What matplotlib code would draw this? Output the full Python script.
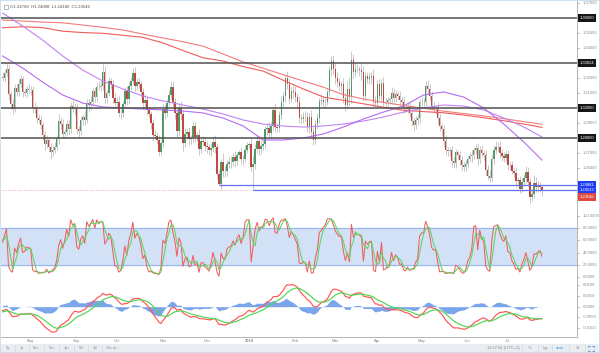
import matplotlib
matplotlib.use("Agg")
import matplotlib.pyplot as plt
from matplotlib.patches import Rectangle
import numpy as np
import pandas as pd

plt.rcParams["font.family"] = ["Liberation Sans", "DejaVu Sans"]

# ---------------------------------------
# Data - GBPUSD daily, 12 Jul 2018 .. 24 Jul 2019
# ---------------------------------------
# warm-up sessions (28 May - 11 Jul 2018), only feed the indicators
warmup_close = [
    1.3315, 1.3240, 1.3285, 1.3300,
    1.3340, 1.3355, 1.3375, 1.3420, 1.3410, 1.3410, 1.3380, 1.3375, 1.3395, 1.3275,
    1.3270, 1.3245, 1.3175, 1.3155, 1.3255, 1.3265, 1.3265, 1.3220, 1.3125, 1.3075, 1.3205,
    1.3145, 1.3185, 1.3230, 1.3245, 1.3285, 1.3275, 1.3230, 1.3210,
]
warmup_up = [25, 30, 20, 25, 30, 20, 25, 35, 30, 20, 25, 20, 45, 30, 35, 20, 30,
             25, 20, 25, 20, 30, 25, 35, 20, 30, 25, 20, 25, 30, 40, 20, 25]
warmup_dn = [20, 35, 25, 20, 25, 30, 20, 25, 35, 30, 20, 25, 30, 40, 25, 30, 35,
             25, 30, 20, 25, 30, 35, 30, 25, 20, 30, 25, 20, 30, 25, 30, 25]

close = [
    # Jul 2018
    1.3205, 1.3235, 1.3265, 1.3095, 1.3030, 1.2995, 1.3135, 1.3110, 1.3160, 1.3195, 1.3110, 1.3105, 1.3130, 1.3125,
    # Aug
    1.3120, 1.3005, 1.2995, 1.2935, 1.2925, 1.2890, 1.2825, 1.2765, 1.2790, 1.2745, 1.2710, 1.2725, 1.2740,
    1.2795, 1.2915, 1.2895, 1.2830, 1.2840, 1.2895, 1.2860, 1.3015, 1.2995, 1.3000,
    # Sep
    1.2860, 1.2850, 1.2920, 1.2945, 1.2925, 1.3035, 1.3020, 1.3045, 1.3115, 1.3075,
    1.3145, 1.3140, 1.3150, 1.3245, 1.3070, 1.3105, 1.3180, 1.3160, 1.3070, 1.3035,
    # Oct
    1.3045, 1.2970, 1.2970, 1.3030, 1.3115, 1.3060, 1.3150, 1.3180, 1.3235, 1.3150, 1.3175, 1.3160,
    1.3110, 1.3035, 1.3055, 1.2990, 1.2965, 1.2900, 1.2820, 1.2815, 1.2790, 1.2710, 1.2770,
    # Nov
    1.2995, 1.2970, 1.3035, 1.3090, 1.3140, 1.3045, 1.2970, 1.2850, 1.3000, 1.2960, 1.2770,
    1.2830, 1.2845, 1.2795, 1.2800, 1.2880, 1.2810, 1.2820, 1.2730, 1.2780, 1.2775, 1.2750,
    # Dec
    1.2740, 1.2720, 1.2735, 1.2775, 1.2740, 1.2560, 1.2495, 1.2640, 1.2585, 1.2580, 1.2630,
    1.2640, 1.2645, 1.2675, 1.2650, 1.2690, 1.2710, 1.2660, 1.2665, 1.2725, 1.2755,
    # Jan 2019
    1.2760, 1.2610, 1.2630, 1.2730, 1.2780, 1.2730, 1.2750, 1.2760, 1.2860, 1.2870, 1.2835, 1.2880,
    1.2990, 1.2875, 1.2870, 1.2955, 1.3045, 1.3080, 1.3205, 1.3160, 1.3065, 1.3115, 1.3110,
    # Feb
    1.3075, 1.3045, 1.2935, 1.2930, 1.2945, 1.2940, 1.2875, 1.2945, 1.2845, 1.2790,
    1.2895, 1.2935, 1.3050, 1.3055, 1.3040, 1.3045, 1.3110, 1.3255, 1.3315, 1.3265,
    # Mar
    1.3205, 1.3175, 1.3150, 1.3160, 1.3070, 1.3025, 1.3130, 1.3075, 1.3325, 1.3240, 1.3265,
    1.3260, 1.3255, 1.3240, 1.3085, 1.3215, 1.3195, 1.3210, 1.3215, 1.3040, 1.3035,
    # Apr
    1.3160, 1.3085, 1.3170, 1.3035, 1.3040, 1.3055, 1.3060, 1.3105, 1.3070, 1.3095, 1.3085,
    1.3055, 1.3045, 1.3000, 1.2995, 1.3010, 1.2970, 1.2915, 1.2890, 1.2920, 1.2935, 1.3040,
    # May
    1.3045, 1.3040, 1.3150, 1.3130, 1.3085, 1.3015, 1.3000, 1.3005, 1.2935, 1.2880, 1.2860, 1.2785,
    1.2720, 1.2715, 1.2720, 1.2650, 1.2635, 1.2710, 1.2690, 1.2655, 1.2625, 1.2610, 1.2630,
    # Jun
    1.2665, 1.2680, 1.2690, 1.2720, 1.2735, 1.2665, 1.2725, 1.2700, 1.2690, 1.2590,
    1.2550, 1.2535, 1.2665, 1.2725, 1.2740, 1.2745, 1.2705, 1.2680, 1.2670, 1.2695,
    # Jul
    1.2625, 1.2620, 1.2585, 1.2570, 1.2515, 1.2520, 1.2465, 1.2510, 1.2535,
    1.2575, 1.2510, 1.2410, 1.2430, 1.2505, 1.2475, 1.2485, 1.24768, 1.24546,
]

# wick lengths above / below the body, in pips
up_wick = [
    30, 20, 35, 25, 20, 30, 25, 30, 40, 25, 20, 25, 20, 30,
    25, 30, 35, 20, 25, 30, 20, 25, 30, 20, 25, 30, 35, 20, 45, 30, 35, 20, 25, 30, 25, 40, 30,
    35, 25, 30, 20, 40, 25, 30, 35, 20, 30, 25, 40, 30, 50, 35, 20, 30, 25, 30, 35,
    30, 40, 25, 20, 30, 35, 25, 30, 35, 40, 25, 30, 20, 25, 40, 30, 25, 20, 30, 35, 25, 30, 20,
    35, 30, 25, 30, 35, 40, 25, 30, 35, 50, 30, 40, 25, 30, 20, 35, 30, 25, 40, 30, 35, 25,
    30, 25, 35, 40, 45, 30, 35, 20, 60, 30, 25, 35, 40, 30, 40, 20, 15, 30, 25, 30, 20,
    15, 45, 60, 30, 40, 35, 45, 30, 25, 30, 40, 35, 20, 45, 30, 25, 35, 30, 25, 45, 40, 30, 45,
    40, 30, 35, 25, 30, 40, 35, 25, 45, 30, 25, 35, 20, 40, 30, 25, 20, 25, 35, 40,
    35, 40, 30, 25, 45, 30, 50, 80, 55, 40, 35, 30, 25, 40, 45, 30, 25, 30, 25, 45, 40,
    30, 35, 25, 40, 30, 20, 25, 35, 30, 25, 20, 30, 25, 35, 20, 25, 30, 35, 25, 30, 25, 20,
    30, 25, 30, 40, 35, 30, 25, 20, 35, 30, 25, 30, 35, 20, 25, 30, 25, 20, 15, 25, 30, 20, 25,
    25, 30, 35, 25, 30, 35, 25, 30, 25, 30, 35, 40, 25, 30, 45, 30, 40, 25, 30, 25,
    30, 25, 30, 20, 35, 25, 30, 25, 30, 40, 35, 25, 30, 50, 35, 30, 25, 4,
]
dn_wick = [
    25, 30, 20, 40, 35, 30, 20, 25, 30, 20, 35, 25, 30, 20,
    30, 35, 25, 30, 20, 25, 35, 40, 30, 35, 45, 30, 25, 20, 30, 35, 25, 30, 20, 35, 25, 20, 40,
    30, 45, 25, 30, 35, 20, 45, 30, 25, 35, 30, 20, 25, 30, 40, 35, 25, 30, 35, 25,
    35, 30, 40, 25, 20, 35, 30, 25, 20, 35, 30, 25, 35, 40, 30, 35, 30, 40, 35, 25, 30, 25, 30,
    25, 40, 30, 20, 25, 35, 40, 45, 30, 40, 55, 30, 35, 40, 30, 25, 35, 30, 40, 30, 25, 35,
    35, 30, 40, 25, 35, 30, 7, 30, 40, 35, 30, 25, 35, 30, 40, 25, 20, 30, 35, 25, 20,
    20, 30, 157, 35, 30, 40, 35, 25, 30, 35, 40, 30, 25, 35, 30, 25, 30, 35, 40, 30, 35, 25, 40,
    35, 40, 30, 35, 25, 30, 35, 40, 30, 35, 25, 30, 35, 25, 30, 35, 25, 30, 40, 35,
    40, 35, 30, 40, 35, 45, 30, 60, 40, 35, 30, 25, 40, 50, 35, 30, 25, 35, 45, 40, 30,
    35, 30, 40, 25, 30, 35, 25, 30, 35, 25, 30, 35, 25, 30, 20, 25, 30, 35, 40, 25, 30, 35,
    25, 35, 30, 35, 30, 25, 30, 35, 40, 30, 35, 40, 30, 35, 30, 40, 35, 30, 25, 30, 35, 30, 25,
    30, 25, 35, 30, 25, 40, 30, 25, 35, 40, 30, 25, 20, 35, 30, 25, 35, 30, 25, 30,
    35, 30, 25, 30, 40, 35, 30, 25, 30, 35, 30, 40, 28, 30, 35, 30, 35, 37,
]

# moving averages, every 10th session + last one
ma_red_a = [1.3588, 1.3582, 1.3575, 1.3570, 1.3555, 1.3540, 1.3522, 1.3495, 1.3469, 1.3444,
            1.3414, 1.3362, 1.3309, 1.3267, 1.3224, 1.3182, 1.3141, 1.3091, 1.3062, 1.3039,
            1.3019, 1.3000, 1.2981, 1.2965, 1.2949, 1.2931, 1.2911, 1.2893]
ma_red_b = [1.3537, 1.3544, 1.3538, 1.3514, 1.3505, 1.3500, 1.3487, 1.3473, 1.3436, 1.3385,
            1.3337, 1.3315, 1.3278, 1.3248, 1.3187, 1.3129, 1.3075, 1.3053, 1.3030, 1.3007,
            1.2987, 1.2978, 1.2970, 1.2955, 1.2937, 1.2917, 1.2895, 1.2873]
ma_purple_a = [1.3635, 1.3549, 1.3455, 1.3349, 1.3255, 1.3182, 1.3129, 1.3082, 1.3049, 1.3022,
               1.2995, 1.2962, 1.2922, 1.2895, 1.2882, 1.2875, 1.2882, 1.2895, 1.2915, 1.2942,
               1.2975, 1.3002, 1.3022, 1.3015, 1.2989, 1.2935, 1.2875, 1.2809]
ma_purple_b = [1.3349, 1.3269, 1.3175, 1.3089, 1.3035, 1.3009, 1.3002, 1.2995, 1.2989, 1.2982,
               1.2969, 1.2935, 1.2882, 1.2789, 1.2789, 1.2802, 1.2829, 1.2875, 1.2929, 1.2975,
               1.3015, 1.3089, 1.3109, 1.3075, 1.3002, 1.2895, 1.2775, 1.2655]

# drawn levels
key_levels = [1.36000, 1.33024, 1.30000, 1.28000]
support_levels = [1.24881, 1.24533]
support_from = ["2018-12-11", "2019-01-03"]
last_price = 1.24546
legend_text = "O1.24768  H1.24808  L1.24180  C1.24546"

price_ticks = [1.37, 1.35, 1.34, 1.32, 1.31, 1.29, 1.27, 1.26]
stoch_ticks = [100, 80, 60, 40, 20, 0]
macd_ticks = [0.01, 0.005, 0.0, -0.005, -0.01]

# ---------------------------------------
# Prepare OHLC + indicators
# ---------------------------------------
n_warm = len(warmup_close)
c_all = np.array(warmup_close + close)
o_all = np.r_[c_all[0], c_all[:-1]]
h_all = np.maximum(o_all, c_all) + np.array(warmup_up + up_wick) / 1e4
l_all = np.minimum(o_all, c_all) - np.array(warmup_dn + dn_wick) / 1e4
dates = pd.bdate_range("2018-05-28", periods=len(c_all))
x_all = np.arange(len(c_all)) - n_warm
vis = x_all >= 0

cs = pd.Series(c_all)
hh = pd.Series(h_all).rolling(14, min_periods=1).max()
ll = pd.Series(l_all).rolling(14, min_periods=1).min()
stoch_k = 100 * (cs - ll) / (hh - ll)
stoch_d = stoch_k.rolling(3, min_periods=1).mean()
macd = cs.ewm(span=12, adjust=False).mean() - cs.ewm(span=26, adjust=False).mean()
signal = macd.ewm(span=9, adjust=False).mean()
hist = macd - signal

x = x_all[vis]
o, h, l, c = o_all[vis], h_all[vis], l_all[vis], c_all[vis]
vis_dates = dates[vis]
ma_x = np.r_[np.arange(0, len(close), 10), len(close) - 1]

# ---------------------------------------
# Figure setup (pixel based panels)
# ---------------------------------------
W, H = 600, 353
fig = plt.figure(figsize=(W / 100, H / 100), dpi=100)
fig.patch.set_facecolor("white")


def px_axes(x0, y0, x1, y1):
    return fig.add_axes([x0 / W, 1 - y1 / H, (x1 - x0) / W, (y1 - y0) / H])


ax = px_axes(1, 1, 577, 212)
ax_st = px_axes(1, 212, 577, 281)
ax_md = px_axes(1, 281, 577, 337)

XLIM = (-0.75, 286.5)
for a in (ax, ax_st, ax_md):
    a.set_xlim(*XLIM)
    a.set_xticks([])
    a.set_yticks([])
    a.set_facecolor("white")
    for s in ("left", "top"):
        a.spines[s].set_visible(False)
    for s in ("right", "bottom"):
        a.spines[s].set_color("#b4b4b4")
        a.spines[s].set_linewidth(0.7)

ax.set_ylim(1.23087, 1.37153)
ax_st.set_ylim(-6.0, 106.0)
ax_md.set_ylim(-0.01416, 0.01201)

# ---------------------------------------
# Main panel
# ---------------------------------------
up = c >= o
body_col = np.where(up, "#4f9a68", "#c2473e")
ax.vlines(x, l, h, color="#b9b9b9", lw=0.55, zorder=2)
ax.bar(x, np.maximum(np.abs(c - o), 0.00006), bottom=np.minimum(o, c), width=0.72,
       color=body_col, linewidth=0, zorder=3)

ax.plot(ma_x, ma_red_a, color="#f27b7b", lw=0.8, zorder=4)
ax.plot(ma_x, ma_red_b, color="#f05a5a", lw=0.8, zorder=4)
ax.plot(ma_x, ma_purple_a, color="#c084f5", lw=0.8, zorder=4)
ax.plot(ma_x, ma_purple_b, color="#b36cf0", lw=0.8, zorder=4)

for lv in key_levels:
    ax.axhline(lv, color="#505050", lw=1.1, zorder=5)
for lv, d0 in zip(support_levels, support_from):
    x0 = x[vis_dates.get_loc(pd.Timestamp(d0))]
    ax.hlines(lv, x0, XLIM[1], color="#6470f2", lw=0.9, zorder=5)
ax.axhline(last_price, color="#f3a3a3", lw=0.6, ls=(0, (1.2, 1.5)), zorder=1)

# ---------------------------------------
# Stochastic panel
# ---------------------------------------
ax_st.axhspan(20, 80, color="#d3e1f7", zorder=0)
ax_st.axhline(80, color="#97b8ee", lw=0.8, zorder=1)
ax_st.axhline(20, color="#97b8ee", lw=0.8, zorder=1)
ax_st.plot(x, stoch_k[vis], color="#ee5f5f", lw=0.75, zorder=3)
ax_st.plot(x, stoch_d[vis], color="#5fd35f", lw=0.75, zorder=4)

# ---------------------------------------
# MACD panel
# ---------------------------------------
ax_md.fill_between(x, 0, hist[vis], color="#7aa5ea", linewidth=0, zorder=2)
ax_md.plot(x, macd[vis], color="#ff5555", lw=0.85, zorder=3)
ax_md.plot(x, signal[vis], color="#52d552", lw=0.85, zorder=4)

# ---------------------------------------
# Right axis labels
# ---------------------------------------
FS = 3.0


def right_label(a, val, txt, fc=None):
    tr = a.get_yaxis_transform()
    if fc is None:
        a.plot([1.0, 1.0035], [val, val], transform=tr, color="#a0a0a0", lw=0.5, clip_on=False)
        a.text(1.0095, val, txt, transform=tr, fontsize=FS, color="#8c8c8c",
               ha="left", va="center", clip_on=False)
    else:
        a.text(1.0045, val, txt, transform=tr, fontsize=FS, color="white", ha="left", va="center",
               clip_on=False, zorder=10,
               bbox=dict(boxstyle="square,pad=0.45", fc=fc, ec="none"))


for v in price_ticks:
    right_label(ax, v, f"{v:.5f}")
for lv in key_levels:
    right_label(ax, lv, f"{lv:.5f}", fc="#161616")
right_label(ax, support_levels[0], f"{support_levels[0]:.5f}", fc="#1f3df5")
right_label(ax, support_levels[1], f"{support_levels[1]:.5f}", fc="#1f3df5")
right_label(ax, support_levels[1] - 0.0043, f"{last_price:.5f}", fc="#e0493f")
for v in stoch_ticks:
    right_label(ax_st, v, f"{v:.4f}")
for v in macd_ticks:
    right_label(ax_md, v, f"{v:.4f}")

# ---------------------------------------
# Month labels
# ---------------------------------------
axis_days = pd.bdate_range(vis_dates[0], "2019-08-30")
month_first = pd.Series(np.arange(len(axis_days)), index=axis_days).groupby(
    axis_days.to_period("M")).first().iloc[1:-1]
for per, idx in month_first.items():
    lab = str(per.year) if per.month == 1 else per.strftime("%b")
    ax_md.text(idx, -0.075, lab, transform=ax_md.get_xaxis_transform(), fontsize=FS,
               color="#8c8c8c", ha="center", va="center",
               fontweight="bold" if per.month == 1 else "normal", clip_on=False)

# ---------------------------------------
# Legend row + bottom toolbar + frame
# ---------------------------------------
fig.patches.append(Rectangle((3.5 / W, 1 - 8.5 / H), 4 / W, 4 / H, transform=fig.transFigure,
                             fill=False, ec="#9a9a9a", lw=0.5))
fig.text(9.5 / W, 1 - 6.5 / H, legend_text, fontsize=3.1, color="#5a5048", va="center")

fig.patches.append(Rectangle((0, 0), 1, 9.5 / H, transform=fig.transFigure,
                             fc="#e9edf2", ec="none", zorder=0))
left_btns = ["5y", "1y", "6m", "3m", "1m", "5d", "1d", "Go to..."]
left_pos = [8, 22, 36, 52, 67, 81, 95, 113]
for t, px in zip(left_btns, left_pos):
    fig.text(px / W, 4.8 / H, t, fontsize=FS, color="#8a8a8a", ha="center", va="center")
for px in [15, 29, 44, 59, 74, 88, 102]:
    fig.lines.append(plt.Line2D([px / W, px / W], [1.5 / H, 8 / H], transform=fig.transFigure,
                                color="#d3d8df", lw=0.5))
right_btns = ["11:37:04 (UTC+1)", "%", "log", "auto", "\u2699"]
right_pos = [503, 530, 545, 560, 577]
right_col = ["#8a8a8a", "#8a8a8a", "#8a8a8a", "#3d8fe0", "#8a8a8a"]
for t, px, col in zip(right_btns, right_pos, right_col):
    fig.text(px / W, 4.8 / H, t, fontsize=FS, color=col, ha="center", va="center")
for px in [522, 538, 552, 569, 585]:
    fig.lines.append(plt.Line2D([px / W, px / W], [1.5 / H, 8 / H], transform=fig.transFigure,
                                color="#d3d8df", lw=0.5))

# full-screen icon (four corner marks), drawn as a shape
cx, cy, r, k = 591, 4.8, 2.6, 1.2
for sx in (-1, 1):
    for sy in (-1, 1):
        xs = [(cx + sx * r) / W, (cx + sx * r) / W, (cx + sx * (r - k)) / W]
        ys = [(cy + sy * (r - k)) / H, (cy + sy * r) / H, (cy + sy * r) / H]
        fig.lines.append(plt.Line2D(xs, ys, transform=fig.transFigure, color="#3d8fe0", lw=0.5))

fig.patches.append(Rectangle((0.0008, 0.001), 0.9984, 0.998, transform=fig.transFigure,
                             fill=False, ec="#c6daee", lw=1.2))

fig.savefig("out.png", dpi=100)
